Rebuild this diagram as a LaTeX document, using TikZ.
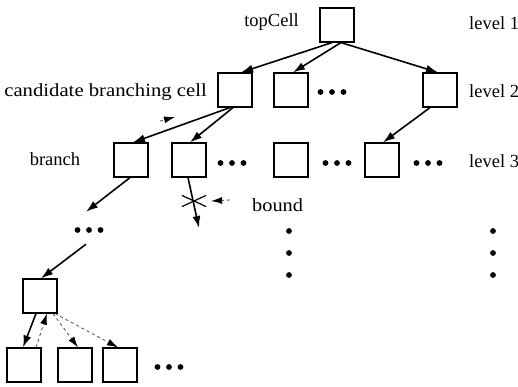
\documentclass[tikz,border=0pt]{standalone}
\usepackage{fontspec}
\setmainfont{Liberation Serif}
\usetikzlibrary{arrows.meta,calc,shapes.misc}
\begin{document}
\begin{tikzpicture}[x=1pt,y=-1pt,
  cell/.style={draw, line width=1.2pt, minimum width=34pt, minimum height=34pt, inner sep=0pt},
  lbl/.style={font=\fontsize{18.5}{20}\selectfont, inner sep=0pt},
  arr/.style={line width=1.6pt, -{Latex[length=12pt,width=8pt]}},
  back/.style={line width=0.8pt, black!70, dash pattern=on 3pt off 3pt, -{Latex[length=11pt,width=7pt,color=black]}},
  hdots/.style={minimum width=30pt, minimum height=8pt, inner sep=0pt,
    path picture={\foreach \i in {-11.5,0,11.5} \fill ([xshift=\i pt]path picture bounding box.center) circle (2.9pt);}},
  vdots/.style={minimum width=8pt, minimum height=52pt, inner sep=0pt,
    path picture={\foreach \i in {-22,0,22} \fill ([yshift=\i pt]path picture bounding box.center) circle (2.9pt);}},
  crossmark/.style={cross out, draw, line width=1.2pt, minimum width=23pt, minimum height=10pt, inner sep=0pt}]
\useasboundingbox (0,0) rectangle (518,387);

% cells
\node[cell] (top) at (337,25) {};
\node[cell] (a1) at (235,90) {};
\node[cell] (a2) at (291,90) {};
\node[cell] (a3) at (440,90) {};
\node[cell] (b1) at (131,160) {};
\node[cell] (b2) at (189,160) {};
\node[cell] (b3) at (291,160) {};
\node[cell] (b4) at (382,160) {};
\node[cell] (m) at (40,296) {};
\node[cell] (c1) at (24,365) {};
\node[cell] (c2) at (75,365) {};
\node[cell] (c3) at (120,365) {};

% dots
\node[hdots] (da) at (332,92) {};
\node[hdots] (db1) at (232,163) {};
\node[hdots] (db2) at (337,163) {};
\node[hdots] (db3) at (428,163) {};
\node[hdots] (dm) at (89,230) {};
\node[hdots] (dc) at (169,367) {};
\node[vdots] (v1) at (289,253) {};
\node[vdots] (v2) at (493,253) {};

% labels
\node[lbl, anchor=east] (ltop) at (299,22) {topCell};
\node[lbl, anchor=west] (lv1) at (469,23) {level 1};
\node[lbl, anchor=west] (lv2) at (469,91) {level 2};
\node[lbl, anchor=west] (lv3) at (469,161) {level 3};
\node[lbl, anchor=east] (cand) at (207,92) {\scalebox{1.12}[1]{candidate branching cell}};
\node[lbl] (br) at (55,159) {branch};
\node[lbl, anchor=west] (bnd) at (252,205) {\scalebox{1.1}[1]{bound}};

% cut mark
\node[crossmark] (x) at (194,201) {};
\coordinate (cutend) at (199,228);

% solid arrows
\draw[arr] ([xshift=-5pt]top.south) -- ([xshift=6pt]a1.north);
\draw[arr] ([xshift=4pt]top.south) -- ([xshift=2pt]a2.north);
\draw[arr] ([xshift=4pt]top.south) -- ([xshift=-2pt]a3.north);
\draw[arr] ([xshift=-5pt]a1.south) -- ([xshift=2pt]b1.north);
\draw[arr] ([xshift=-2pt]a1.south) -- ([xshift=1pt]b2.north);
\draw[arr] ([xshift=-10pt]a3.south) -- ([xshift=1pt]b4.north);
\draw[arr] ([xshift=-1pt]b1.south) -- ($(dm.north)+(-3,-14)$);
\draw[arr] ([xshift=-1pt]b2.south) -- (cutend);
\draw[arr] ($(dm.south)+(-3,10)$) -- ([xshift=1pt]m.north);
\draw[arr] ([xshift=-4pt]m.south) -- ([xshift=-1pt]c1.north);

% dashed arrows
\coordinate (bt1) at (160,121);
\coordinate (bt2) at (175,117);
\draw[back] (bt1) -- (bt2);
\draw[back] ($(bnd.west)+(-22,-5)$) -- ([xshift=5pt]x.east);
\draw[back] ([xshift=12pt]c1.north) -- ([xshift=7pt]m.south);
\draw[back] ([xshift=13pt]m.south) -- ([xshift=3pt]c2.north);
\draw[back] ([xshift=15pt]m.south) -- ([xshift=-2pt]c3.north);
\end{tikzpicture}
\end{document}
